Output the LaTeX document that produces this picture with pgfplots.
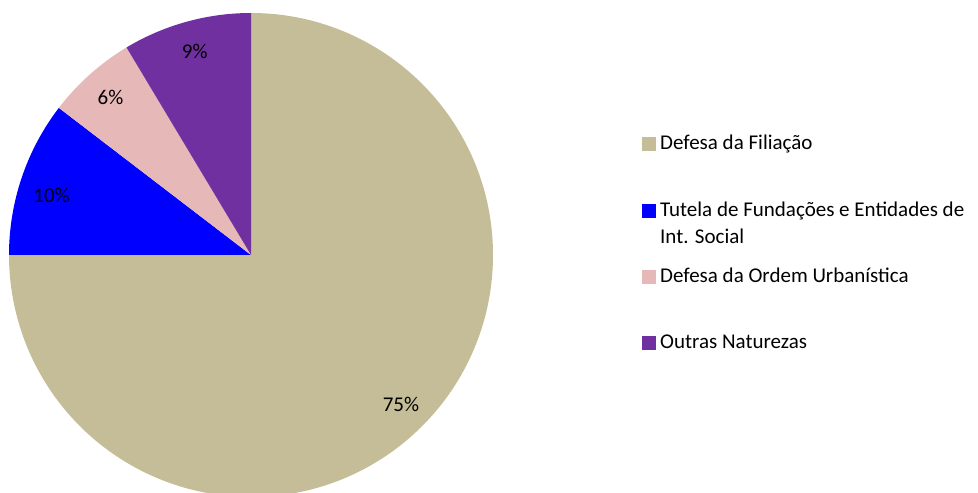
\documentclass[border=0pt]{standalone}
\usepackage{pgfplots}
\usepackage{pgfplotstable}
\usepackage{fontspec}
\setmainfont{Carlito}
\pgfplotsset{compat=1.18}

\definecolor{cbeige}{HTML}{C4BD97}
\definecolor{cblue}{HTML}{0000FF}
\definecolor{cpink}{HTML}{E6B9B8}
\definecolor{cpurple}{HTML}{7030A0}

% share of each kind, in %
\pgfplotstableread{
value
75.0
10.4
6.0
8.6
}\piedata

\begin{document}
\begin{tikzpicture}[font=\fontsize{21}{26.7}\selectfont]
\pgfplotstablegetelem{0}{value}\of\piedata \let\va\pgfplotsretval
\pgfplotstablegetelem{1}{value}\of\piedata \let\vb\pgfplotsretval
\pgfplotstablegetelem{2}{value}\of\piedata \let\vc\pgfplotsretval
\pgfplotstablegetelem{3}{value}\of\piedata \let\vd\pgfplotsretval
\pgfmathsetmacro\aA{90}
\pgfmathsetmacro\aB{\aA-3.6*\va}
\pgfmathsetmacro\aC{\aB-3.6*\vb}
\pgfmathsetmacro\aD{\aC-3.6*\vc}
\pgfmathsetmacro\aE{\aD-3.6*\vd}
\pgfmathsetmacro\mA{(\aA+\aB)/2}
\pgfmathsetmacro\mB{(\aB+\aC)/2+2.2}
\pgfmathsetmacro\mC{(\aC+\aD)/2}
\pgfmathsetmacro\mD{(\aD+\aE)/2}
\pgfkeys{/pgf/number format/.cd,fixed,precision=0,assume math mode=true}
\begin{axis}[
    x=1pt, y=1pt,
    xmin=0, xmax=978,
    ymin=0, ymax=493,
    scale only axis,
    hide axis,
  ]
  \path (0,0) (978,493);
  % slices, clockwise from the top
  \fill[cbeige]  (251,238) -- ++(\aA:242pt) arc[start angle=\aA, end angle=\aB, radius=242pt] -- cycle;
  \fill[cblue]   (251,238) -- ++(\aB:242pt) arc[start angle=\aB, end angle=\aC, radius=242pt] -- cycle;
  \fill[cpink]   (251,238) -- ++(\aC:242pt) arc[start angle=\aC, end angle=\aD, radius=242pt] -- cycle;
  \fill[cpurple] (251,238) -- ++(\aD:242pt) arc[start angle=\aD, end angle=\aE, radius=242pt] -- cycle;
  % data labels
  \path (251,238) ++(\mA:212pt) node {\pgfmathprintnumber{\va}\%};
  \path (251,238) ++(\mB:208pt) node {\pgfmathprintnumber{\vb}\%};
  \path (251,238) ++(\mC:211pt) node {\pgfmathprintnumber{\vc}\%};
  \path (251,238) ++(\mD:211pt) node {\pgfmathprintnumber{\vd}\%};
  % legend
  \fill[cbeige]  (642,342) rectangle (656,356);
  \fill[cblue]   (642,275.3) rectangle (656,289.3);
  \fill[cpink]   (642,209.3) rectangle (656,223.3);
  \fill[cpurple] (642,143) rectangle (656,157);
  \node[anchor=base west, inner sep=0pt] at (660,343) {Defesa da Filiação};
  \node[anchor=base west, inner sep=0pt] at (660,276.3)
    {\vtop{\hbox{Tutela de Fundações e Entidades de}\hbox{Int. Social}}};
  \node[anchor=base west, inner sep=0pt] at (660,210.3) {Defesa da Ordem Urbanística};
  \node[anchor=base west, inner sep=0pt] at (660,144) {Outras Naturezas};
\end{axis}
\end{tikzpicture}
\end{document}
